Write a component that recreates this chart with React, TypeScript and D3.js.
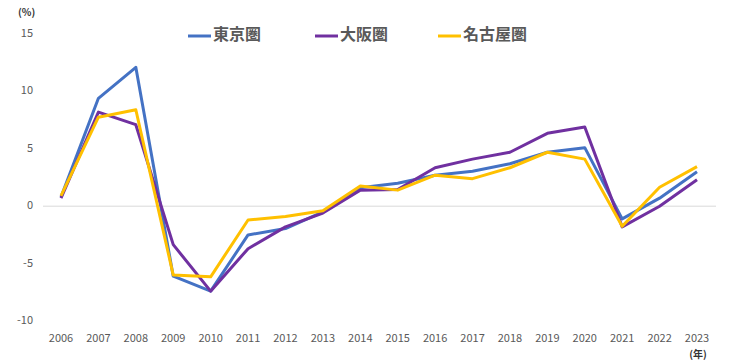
import React, { useEffect, useRef } from "react";
import * as d3 from "d3";

const years = [
  "2006", "2007", "2008", "2009", "2010", "2011", "2012", "2013", "2014",
  "2015", "2016", "2017", "2018", "2019", "2020", "2021", "2022", "2023",
];

const tokyo = [0.8, 9.4, 12.1, -6.1, -7.4, -2.5, -1.95, -0.5, 1.6, 2.0, 2.7, 3.05, 3.7, 4.7, 5.1, -1.1, 0.7, 3.0];
const osaka = [0.7, 8.2, 7.1, -3.35, -7.4, -3.7, -1.8, -0.6, 1.4, 1.45, 3.35, 4.1, 4.7, 6.35, 6.9, -1.8, 0.0, 2.3];
const nagoya = [0.9, 7.75, 8.4, -6.0, -6.15, -1.2, -0.9, -0.4, 1.75, 1.4, 2.7, 2.4, 3.35, 4.7, 4.1, -1.75, 1.65, 3.45];

const seriesNames = ["東京圏", "大阪圏", "名古屋圏"];
const seriesColors = ["#4472C4", "#7030A0", "#FFC000"];
const yTicks = [-10, -5, 0, 5, 10, 15];

const App: React.FC = () => {
  const svgRef = useRef<SVGSVGElement>(null);

  useEffect(() => {
    if (!svgRef.current) return;
    const svg = d3.select(svgRef.current);
    svg.selectAll("*").remove();

    const width = 730;
    const height = 362;
    svg.attr("width", width).attr("height", height);

    const font = "'Noto Sans CJK JP', 'Noto Sans', sans-serif";

    const x = d3.scalePoint<string>().domain(years).range([61, 697]);
    const y = d3.scaleLinear().domain([-10, 15]).range([321, 34]);

    // zero line
    svg
      .append("line")
      .attr("x1", 43)
      .attr("x2", 716)
      .attr("y1", y(0))
      .attr("y2", y(0))
      .attr("stroke", "#d9d9d9")
      .attr("stroke-width", 1);

    // y tick labels
    svg
      .selectAll(".ytick")
      .data(yTicks)
      .enter()
      .append("text")
      .attr("x", 33)
      .attr("y", (d) => y(d))
      .attr("text-anchor", "end")
      .attr("dominant-baseline", "middle")
      .style("font-family", font)
      .style("font-size", "11px")
      .style("fill", "#595959")
      .text((d) => d);

    svg
      .append("text")
      .attr("x", 18)
      .attr("y", 13)
      .attr("dominant-baseline", "middle")
      .style("font-family", font)
      .style("font-size", "10px")
      .style("font-weight", "bold")
      .style("fill", "#333")
      .text("(%)");

    // x tick labels
    svg
      .selectAll(".xtick")
      .data(years)
      .enter()
      .append("text")
      .attr("x", (d) => x(d)!)
      .attr("y", 339)
      .attr("text-anchor", "middle")
      .attr("dominant-baseline", "middle")
      .style("font-family", font)
      .style("font-size", "11px")
      .style("fill", "#595959")
      .text((d) => d);

    svg
      .append("text")
      .attr("x", 698)
      .attr("y", 355)
      .attr("text-anchor", "middle")
      .attr("dominant-baseline", "middle")
      .style("font-family", font)
      .style("font-size", "10px")
      .style("font-weight", "bold")
      .style("fill", "#333")
      .text("(年)");

    const line = d3
      .line<number>()
      .x((_, i) => x(years[i])!)
      .y((d) => y(d));

    [tokyo, osaka, nagoya].forEach((vals, i) => {
      svg
        .append("path")
        .attr("d", line(vals) || "")
        .attr("fill", "none")
        .attr("stroke", seriesColors[i])
        .attr("stroke-width", 3)
        .attr("stroke-linejoin", "round");
    });

    // legend
    const legendX = [188, 315, 438];
    seriesNames.forEach((name, i) => {
      const g = svg.append("g").attr("transform", `translate(${legendX[i]}, 36)`);
      g.append("line")
        .attr("x1", 0)
        .attr("x2", 23)
        .attr("stroke", seriesColors[i])
        .attr("stroke-width", 3);
      g.append("text")
        .attr("x", 25)
        .attr("y", 0)
        .attr("dominant-baseline", "middle")
        .style("font-family", font)
        .style("font-size", "16px")
        .style("font-weight", "bold")
        .style("fill", "#595959")
        .text(name);
    });
  }, []);

  return (
    <div style={{ position: "absolute", left: 0, top: 0 }}>
      <svg ref={svgRef}></svg>
    </div>
  );
};

export default App;
